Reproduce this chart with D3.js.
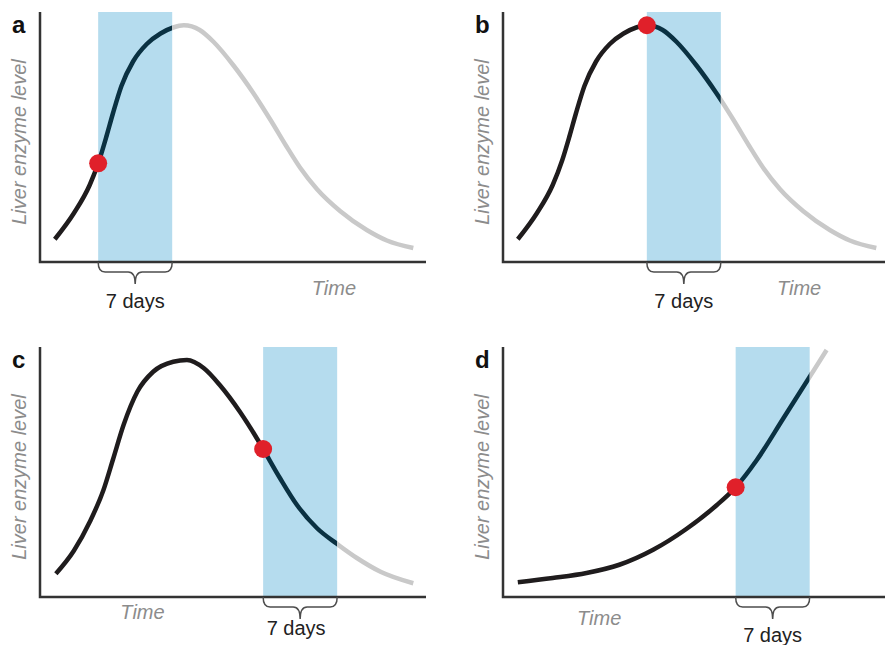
<!DOCTYPE html>
<html>
<head>
<meta charset="utf-8">
<script src="https://cdn.jsdelivr.net/npm/d3@7.9.0/dist/d3.min.js"></script>
<style>
  body { margin: 0; background: #fff; }
  svg { display: block; font-family: "Liberation Sans", Arial, sans-serif; }
</style>
</head>
<body>
<svg width="885" height="645"></svg>
<script>
// time in days, level in arbitrary units (0-100)
const letters = ["a", "b", "c", "d"];

const daysA = [1.4, 3.2, 4.7, 5.6, 6.3, 6.9, 7.7, 8.8, 10.1, 11.4, 12.6, 13.6, 15.1, 16.4, 18.3, 20.2, 21.8, 23.3, 24.6, 26.2, 28.4, 30.9, 32.8, 35.3];
const levelA = [9.1, 19.5, 30.8, 40.7, 50.5, 59.5, 70.4, 80.2, 87.2, 91.4, 93.8, 94.7, 92.8, 88.1, 78.6, 67.4, 56.8, 46.3, 37.7, 29.1, 20.3, 12.8, 8.6, 5.6];

// panel b shows the same course as panel a
const daysB = daysA;
const levelB = levelA;

const daysC = [1.5, 3.2, 4.7, 6.0, 6.9, 7.9, 9.2, 10.7, 12.6, 13.9, 15.5, 17.0, 18.9, 20.5, 21.1, 22.7, 24.3, 26.2, 28.1, 30.0, 32.2, 35.3];
const levelC = [9.3, 18.5, 30.0, 42.8, 55.0, 68.8, 82.1, 90.1, 94.1, 94.8, 91.5, 84.8, 74.1, 63.5, 59.2, 47.5, 36.8, 27.5, 21.2, 15.5, 10.1, 5.5];

const daysD = [1.4, 4.7, 7.9, 11.0, 14.2, 17.3, 20.2, 22.0, 24.0, 26.5, 28.9, 30.6];
const levelD = [5.9, 7.6, 9.6, 12.9, 18.9, 27.1, 36.7, 43.9, 54.8, 71.4, 87.4, 98.8];

// day the sample is taken (start of the 7-day window)
const sampleDay = [5.5, 13.6, 21.1, 22.0];
const windowDays = 7;
const timeLabelDay = [25.7, 25.9, 7.6, 7.0];

const days = [daysA, daysB, daysC, daysD];
const levels = [levelA, levelB, levelC, levelD];

// layout
const panelX = [40, 503, 40, 503];
const panelBottom = [262, 262, 597, 597];
const plotW = 386, plotH = 250;
const timeDy = [33, 33, 22, 28];
const daysDy = [46, 46, 38, 45];
const daysDx = [0, 0, -4, 0];

const svg = d3.select("svg");
const defs = svg.append("defs");

function braceD(x0, x1, top) {
    const mid = top + 10, tip = top + 22, cx = (x0 + x1) / 2, r = 7;
    return `M${x0},${top} Q${x0},${mid} ${x0 + r},${mid} L${cx - r},${mid} Q${cx},${mid} ${cx},${tip}` +
           ` Q${cx},${mid} ${cx + r},${mid} L${x1 - r},${mid} Q${x1},${mid} ${x1},${top}`;
}

// find y of a path at a given x (path is monotone in x)
function yAtX(node, xp) {
    let lo = 0, hi = node.getTotalLength();
    for (let i = 0; i < 40; i++) {
        const m = (lo + hi) / 2;
        if (node.getPointAtLength(m).x < xp) lo = m; else hi = m;
    }
    return node.getPointAtLength(lo).y;
}

letters.forEach((letter, i) => {
    const x = d3.scaleLinear().domain([0, 36.5]).range([panelX[i], panelX[i] + plotW]);
    const y = d3.scaleLinear().domain([0, 100]).range([panelBottom[i], panelBottom[i] - plotH]);
    const g = svg.append("g");
    const data = days[i].map((d, k) => ({ t: d, v: levels[i][k] }));
    const s0 = sampleDay[i], s1 = sampleDay[i] + windowDays;

    // 7-day window
    g.append("rect")
        .attr("x", x(s0)).attr("width", x(s1) - x(s0))
        .attr("y", y(100)).attr("height", y(0) - y(100))
        .attr("fill", "#b5dcee");

    // axes
    g.append("path")
        .attr("d", `M${x(0)},${y(100)} V${y(0)} H${x(36.5)}`)
        .attr("fill", "none").attr("stroke", "#333").attr("stroke-width", 2.5);

    // clip regions: before, during, after the window
    const parts = [
        { from: x(0) - 20, to: x(s0), color: "#1f1c1d" },
        { from: x(s0), to: x(s1), color: "#0a3142" },
        { from: x(s1), to: 900, color: "#c9c9c9" }
    ];
    const line = d3.line().x(d => x(d.t)).y(d => y(d.v)).curve(d3.curveMonotoneX);
    let pathNode;
    parts.forEach((p, j) => {
        const id = `clip-${letter}-${j}`;
        defs.append("clipPath").attr("id", id)
            .append("rect").attr("x", p.from).attr("width", p.to - p.from)
            .attr("y", 0).attr("height", 645);
        const path = g.append("path")
            .datum(data)
            .attr("d", line)
            .attr("fill", "none")
            .attr("stroke", p.color)
            .attr("stroke-width", 4.5)
            .attr("clip-path", `url(#${id})`);
        pathNode = path.node();
    });

    // sample point
    g.append("circle")
        .attr("cx", x(s0)).attr("cy", yAtX(pathNode, x(s0)))
        .attr("r", 9).attr("fill", "#e0202a");

    // brace under the window
    g.append("path")
        .attr("d", braceD(x(s0), x(s1), y(0)))
        .attr("fill", "none").attr("stroke", "#4d4d4d").attr("stroke-width", 1.5);

    g.append("text")
        .attr("x", (x(s0) + x(s1)) / 2 + daysDx[i]).attr("y", y(0) + daysDy[i])
        .attr("text-anchor", "middle").attr("font-size", 20).attr("fill", "#222")
        .text("7 days");

    g.append("text")
        .attr("x", x(timeLabelDay[i])).attr("y", y(0) + timeDy[i])
        .attr("font-size", 20).attr("font-style", "italic").attr("fill", "#8c8c8c")
        .text("Time");

    g.append("text")
        .attr("transform", `translate(${x(0) - 14},${(y(0) + y(100)) / 2 + 5}) rotate(-90)`)
        .attr("text-anchor", "middle").attr("font-size", 20).attr("font-style", "italic").attr("fill", "#8c8c8c")
        .text("Liver enzyme level");

    g.append("text")
        .attr("x", x(0) - 28).attr("y", y(100) + 21)
        .attr("font-size", 24).attr("font-weight", "bold").attr("fill", "#111")
        .text(letter);
});
</script>
</body>
</html>
